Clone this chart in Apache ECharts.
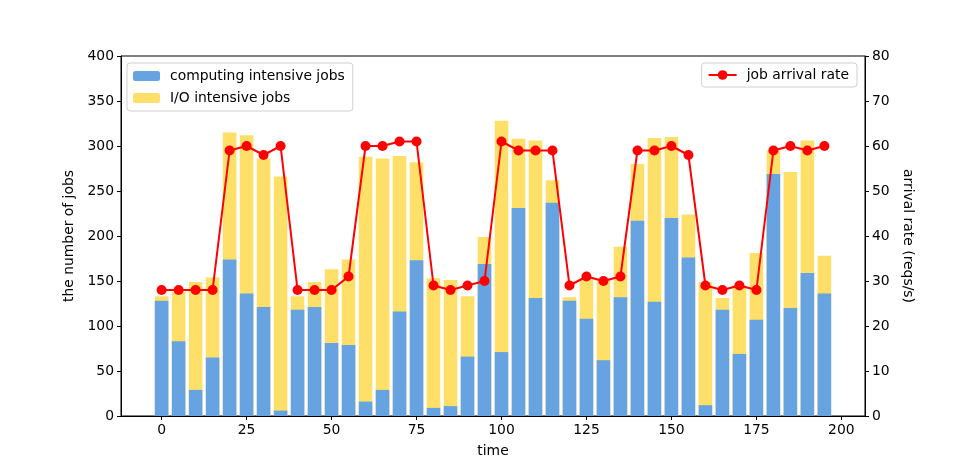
<!DOCTYPE html>
<html>
<head>
<meta charset="utf-8">
<script src="https://cdn.jsdelivr.net/npm/echarts@6/dist/echarts.min.js"></script>
<style>
  html, body { margin: 0; padding: 0; background: #fff; }
  #main { width: 960px; height: 467px; }
</style>
</head>
<body>
<div id="main"></div>
<script>
// time slots (x position of every bar / point)
var times = [0, 5, 10, 15, 20, 25, 30, 35, 40, 45, 50, 55, 60, 65, 70, 75, 80, 85, 90, 95,
             100, 105, 110, 115, 120, 125, 130, 135, 140, 145, 150, 155, 160, 165, 170, 175, 180, 185, 190, 195];
// computing intensive jobs (bottom of stack)
var computingJobs = [128, 83, 29, 65, 174, 136, 121, 6, 118, 121, 81, 79, 16, 29, 116, 173, 9, 11, 66, 169,
                     71, 231, 131, 237, 128, 108, 62, 132, 217, 127, 220, 176, 12, 118, 69, 107, 269, 120, 159, 136];
// I/O intensive jobs (stacked on top)
var ioJobs = [5, 55, 120, 89, 141, 176, 165, 260, 15, 28, 82, 95, 272, 257, 173, 109, 144, 140, 67, 30,
              257, 77, 175, 25, 4, 44, 89, 56, 63, 182, 90, 48, 137, 13, 76, 74, 26, 151, 147, 42];
// job arrival rate (right axis)
var arrivalRate = [28, 28, 28, 28, 59, 60, 58, 60, 28, 28, 28, 31, 60, 60, 61, 61, 29, 28, 29, 30,
                   61, 59, 59, 59, 29, 31, 30, 31, 59, 59, 60, 58, 29, 28, 29, 28, 59, 60, 59, 60];
var timeTicks = [0, 25, 50, 75, 100, 125, 150, 175, 200];

function pairs(xs, ys) {
    return xs.map(function (x, i) { return [x, ys[i]]; });
}
// stack top of the I/O bars = computing + I/O
var stackTop = computingJobs.map(function (v, i) { return v + ioJobs[i]; });

var FONT = 'DejaVu Sans';
var FS = 13.9;
var chart = echarts.init(document.getElementById('main'), null, { renderer: 'canvas' });

chart.setOption({
    animation: false,
    textStyle: { fontFamily: FONT, color: '#000' },
    grid: {
        left: 121, right: 95, top: 56, bottom: 51,
        show: true, borderColor: '#000', borderWidth: 1, backgroundColor: 'transparent'
    },
    legend: [{
        data: ['computing intensive jobs', 'I/O intensive jobs'],
        orient: 'vertical',
        left: 127, top: 63,
        itemWidth: 27, itemHeight: 10, itemGap: 8,
        padding: [6, 8, 6, 6],
        borderColor: '#d0d0d0', borderWidth: 1, borderRadius: 3,
        backgroundColor: 'rgba(255,255,255,0.8)',
        textStyle: { fontFamily: FONT, fontSize: FS, color: '#000', padding: [0, 0, 0, 5] }
    }, {
        data: ['job arrival rate'],
        right: 103, top: 63,
        itemWidth: 28, itemHeight: 12,
        padding: [5, 8, 5, 6],
        borderColor: '#d0d0d0', borderWidth: 1, borderRadius: 3,
        backgroundColor: 'rgba(255,255,255,0.8)',
        textStyle: { fontFamily: FONT, fontSize: FS, color: '#000', padding: [0, 0, 0, 5] }
    }],
    xAxis: {
        type: 'value',
        min: -11.95, max: 206.95,
        name: 'time', nameLocation: 'middle', nameGap: 28,
        nameTextStyle: { fontFamily: FONT, fontSize: FS, color: '#000' },
        splitLine: { show: false },
        axisLine: { show: true, onZero: false, lineStyle: { color: '#000' } },
        axisTick: { show: true, inside: false, length: 4, lineStyle: { color: '#000' }, customValues: timeTicks },
        axisLabel: { fontFamily: FONT, fontSize: FS, color: '#000', margin: 7, customValues: timeTicks }
    },
    yAxis: [{
        type: 'value',
        min: 0, max: 400, interval: 50,
        name: 'the number of jobs', nameLocation: 'middle', nameGap: 45, nameRotate: 90,
        nameTextStyle: { fontFamily: FONT, fontSize: FS, color: '#000' },
        splitLine: { show: false },
        axisLine: { show: true, onZero: false, lineStyle: { color: '#000' } },
        axisTick: { show: true, length: 4, lineStyle: { color: '#000' } },
        axisLabel: { fontFamily: FONT, fontSize: FS, color: '#000', margin: 7 }
    }, {
        type: 'value',
        min: 0, max: 80, interval: 10,
        position: 'right',
        name: 'arrival rate (reqs/s)', nameLocation: 'middle', nameGap: 28, nameRotate: -90,
        nameTextStyle: { fontFamily: FONT, fontSize: FS, color: '#000' },
        splitLine: { show: false },
        axisLine: { show: true, onZero: false, lineStyle: { color: '#000' } },
        axisTick: { show: true, length: 4, lineStyle: { color: '#000' } },
        axisLabel: { fontFamily: FONT, fontSize: FS, color: '#000', margin: 7 }
    }],
    series: [{
        // drawn behind, reaching the stack top
        name: 'I/O intensive jobs',
        type: 'bar',
        barWidth: 13.6,
        barGap: '-100%',
        itemStyle: { color: '#fedf68' },
        data: pairs(times, stackTop)
    }, {
        name: 'computing intensive jobs',
        type: 'bar',
        barWidth: 13.6,
        barGap: '-100%',
        itemStyle: { color: '#66a3e0' },
        data: pairs(times, computingJobs)
    }, {
        name: 'job arrival rate',
        type: 'line',
        yAxisIndex: 1,
        z: 5,
        symbol: 'circle',
        symbolSize: 10,
        itemStyle: { color: '#ff0000' },
        lineStyle: { color: '#ff0000', width: 2 },
        data: pairs(times, arrivalRate)
    }]
});
</script>
</body>
</html>
